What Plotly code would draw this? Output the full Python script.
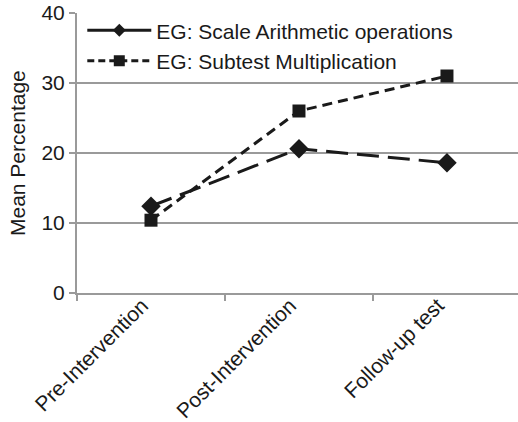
import plotly.graph_objects as go

# Test occasions and mean percentages per measure
occasions = ["Pre-Intervention", "Post-Intervention", "Follow-up test"]
scale_arith = [12.4, 20.6, 18.6]
subtest_mult = [10.4, 26.0, 31.0]
series_names = ["EG: Scale Arithmetic operations", "EG: Subtest Multiplication"]
y_ticks = [0, 10, 20, 30, 40]
y_title = "Mean Percentage"

FONT = "Liberation Sans, Arial, sans-serif"
INK = "#1a1a1a"
GRID = "#9a9a9a"
FS = 21

fig = go.Figure()

# Plotted series (legend entries are drawn by the key-only traces below)
fig.add_trace(go.Scatter(
    x=occasions, y=scale_arith, mode="lines+markers", showlegend=False,
    line=dict(color=INK, width=3, dash="22px,9px"),
    marker=dict(symbol="diamond", size=15, color=INK),
))
fig.add_trace(go.Scatter(
    x=occasions, y=subtest_mult, mode="lines+markers", showlegend=False,
    line=dict(color=INK, width=3, dash="10px,6px"),
    marker=dict(symbol="square", size=13, color=INK),
))

# Legend keys: solid line for the scale, short dashes for the subtest
fig.add_trace(go.Scatter(
    x=[None], y=[None], mode="lines+markers", name=series_names[0],
    legendgroup="a",
    line=dict(color=INK, width=3),
    marker=dict(symbol="diamond", size=10, color=INK),
))
fig.add_trace(go.Scatter(
    x=[None], y=[None], mode="lines+markers", name=series_names[1],
    legendgroup="b",
    line=dict(color=INK, width=3, dash="7px,4px"),
    marker=dict(symbol="square", size=11, color=INK),
))

fig.update_layout(
    width=518, height=422,
    margin=dict(l=77, r=0, t=13, b=129),
    paper_bgcolor="white", plot_bgcolor="white",
    font=dict(family=FONT, size=FS, color=INK),
    legend=dict(
        x=0.012, y=1.01, xanchor="left", yanchor="top",
        bgcolor="rgba(0,0,0,0)", font=dict(size=FS, color=INK),
        tracegroupgap=0, itemwidth=64,
    ),
    annotations=[dict(
        text=y_title, xref="paper", yref="paper", x=-0.136, y=0.5,
        xanchor="center", yanchor="middle", textangle=-90, showarrow=False,
        font=dict(size=FS, color=INK),
    )],
)

fig.update_xaxes(
    type="category", range=[-0.5, 2.48], automargin=False,
    tickangle=-45, tickfont=dict(size=FS, color=INK),
    ticklabelshift=-9, ticklabelstandoff=-10,
    showgrid=False, showline=True, linecolor=GRID, linewidth=2,
    ticks="outside", ticklen=6, tickcolor=GRID, tickwidth=2,
    tickson="boundaries",
)
fig.update_yaxes(
    range=[0, 40], tickvals=y_ticks, automargin=False,
    tickfont=dict(size=FS, color=INK),
    showgrid=True, gridcolor=GRID, gridwidth=2,
    showline=True, linecolor=GRID, linewidth=2,
    ticks="outside", ticklen=6, tickcolor=GRID, tickwidth=2,
    zeroline=False,
)

fig.write_html("out.html")
